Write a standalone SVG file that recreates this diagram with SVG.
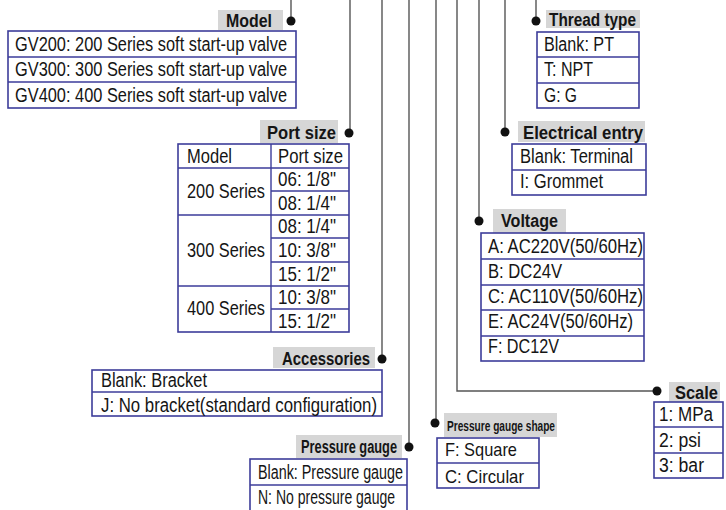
<svg xmlns="http://www.w3.org/2000/svg" width="726" height="510" viewBox="0 0 726 510">
<style>
.t{font-family:"Liberation Sans Narrow","Liberation Sans",Arial,sans-serif;font-size:20px;fill:#151515}
.b{font-family:"Liberation Sans Narrow","Liberation Sans",Arial,sans-serif;font-size:18px;font-weight:bold;fill:#151515}
.s{font-size:15px}
.m{font-size:18.5px}
.box{fill:#fff;stroke:#3d3d9a;stroke-width:1.6}
.div{stroke:#3d3d9a;stroke-width:1.4;fill:none}
.lab{fill:#d6d6d6}
.con{stroke:#555;stroke-width:1.4;fill:none}
.dot{fill:#111}
</style>
<rect width="726" height="510" fill="#fff"/>
<g id="connectors">
<path class="con" d="M291 0V21"/>
<path class="con" d="M350 0V133"/>
<path class="con" d="M382 0V359"/>
<path class="con" d="M409 0V447"/>
<path class="con" d="M436 0V423"/>
<path class="con" d="M457 0V391H655"/>
<path class="con" d="M479 0V221"/>
<path class="con" d="M505 0V132"/>
<path class="con" d="M536 0V21"/>
<circle class="dot" cx="291" cy="21" r="4.5"/>
<circle class="dot" cx="349" cy="133" r="4.5"/>
<circle class="dot" cx="382" cy="359" r="4.5"/>
<circle class="dot" cx="409" cy="447" r="4.5"/>
<circle class="dot" cx="435" cy="423" r="4.5"/>
<circle class="dot" cx="657" cy="391" r="4.5"/>
<circle class="dot" cx="479" cy="221" r="4.5"/>
<circle class="dot" cx="505" cy="132" r="4.5"/>
<circle class="dot" cx="536" cy="21" r="4.5"/>
</g>
<g id="model">
<rect class="lab" x="218" y="10" width="65" height="20"/>
<text class="b" x="226" y="27" textLength="46" lengthAdjust="spacingAndGlyphs">Model</text>
<rect class="box" x="8" y="31" width="288" height="77"/>
<path class="div" d="M8 57H296M8 82H296"/>
<text class="t" x="15" y="51" textLength="272" lengthAdjust="spacingAndGlyphs">GV200: 200 Series soft start-up valve</text>
<text class="t" x="15" y="76" textLength="272" lengthAdjust="spacingAndGlyphs">GV300: 300 Series soft start-up valve</text>
<text class="t" x="15" y="102" textLength="272" lengthAdjust="spacingAndGlyphs">GV400: 400 Series soft start-up valve</text>
</g>
<g id="port-size">
<rect class="lab" x="260" y="120" width="78" height="23"/>
<text class="b" x="267" y="139" textLength="69" lengthAdjust="spacingAndGlyphs">Port size</text>
<rect class="box" x="178" y="144" width="171" height="188"/>
<path class="div" d="M271 144V332M178 168H349M178 215H349M178 286H349M271 191H349M271 238H349M271 262H349M271 309H349"/>
<text class="t" x="187" y="163" textLength="45" lengthAdjust="spacingAndGlyphs">Model</text>
<text class="t" x="278" y="163" textLength="65" lengthAdjust="spacingAndGlyphs">Port size</text>
<text class="t" x="187" y="198" textLength="78" lengthAdjust="spacingAndGlyphs">200 Series</text>
<text class="t" x="187" y="257" textLength="78" lengthAdjust="spacingAndGlyphs">300 Series</text>
<text class="t" x="187" y="315" textLength="78" lengthAdjust="spacingAndGlyphs">400 Series</text>
<text class="t" x="278" y="186" textLength="58" lengthAdjust="spacingAndGlyphs">06: 1/8"</text>
<text class="t" x="278" y="210" textLength="58" lengthAdjust="spacingAndGlyphs">08: 1/4"</text>
<text class="t" x="278" y="233" textLength="58" lengthAdjust="spacingAndGlyphs">08: 1/4"</text>
<text class="t" x="278" y="257" textLength="58" lengthAdjust="spacingAndGlyphs">10: 3/8"</text>
<text class="t" x="278" y="281" textLength="58" lengthAdjust="spacingAndGlyphs">15: 1/2"</text>
<text class="t" x="278" y="304" textLength="58" lengthAdjust="spacingAndGlyphs">10: 3/8"</text>
<text class="t" x="278" y="328" textLength="58" lengthAdjust="spacingAndGlyphs">15: 1/2"</text>
</g>
<g id="accessories">
<rect class="lab" x="273" y="347" width="102" height="21"/>
<text class="b" x="282" y="365" textLength="88" lengthAdjust="spacingAndGlyphs">Accessories</text>
<rect class="box" x="92" y="370" width="290" height="46"/>
<path class="div" d="M92 392H382"/>
<text class="t" x="101" y="387" textLength="106" lengthAdjust="spacingAndGlyphs">Blank: Bracket</text>
<text class="t" x="101" y="412" textLength="276" lengthAdjust="spacingAndGlyphs">J: No bracket(standard configuration)</text>
</g>
<g id="pressure-gauge">
<rect class="lab" x="296" y="435" width="106" height="23"/>
<text class="b" x="301" y="453" textLength="96" lengthAdjust="spacingAndGlyphs">Pressure gauge</text>
<rect class="box" x="250" y="459" width="157" height="56"/>
<path class="div" d="M250 485H407"/>
<text class="t" x="258" y="479" textLength="145" lengthAdjust="spacingAndGlyphs">Blank: Pressure gauge</text>
<text class="t" x="258" y="504" textLength="137" lengthAdjust="spacingAndGlyphs">N: No pressure gauge</text>
</g>
<g id="pressure-gauge-shape">
<rect class="lab" x="444" y="413" width="113" height="24"/>
<text class="b s" x="447" y="431" textLength="108" lengthAdjust="spacingAndGlyphs">Pressure gauge shape</text>
<rect class="box" x="437" y="438" width="102" height="50"/>
<path class="div" d="M437 463H539"/>
<text class="t m" x="445" y="456" textLength="72" lengthAdjust="spacingAndGlyphs">F: Square</text>
<text class="t m" x="445" y="483" textLength="79" lengthAdjust="spacingAndGlyphs">C: Circular</text>
</g>
<g id="scale">
<rect class="lab" x="669" y="382" width="51" height="20"/>
<text class="b" x="675" y="399" textLength="43" lengthAdjust="spacingAndGlyphs">Scale</text>
<rect class="box" x="654" y="402" width="69" height="76"/>
<path class="div" d="M654 427H723M654 453H723"/>
<text class="t" x="659" y="421" textLength="54" lengthAdjust="spacingAndGlyphs">1: MPa</text>
<text class="t" x="659" y="447" textLength="42" lengthAdjust="spacingAndGlyphs">2: psi</text>
<text class="t" x="659" y="472" textLength="45" lengthAdjust="spacingAndGlyphs">3: bar</text>
</g>
<g id="voltage">
<rect class="lab" x="493" y="209" width="73" height="24"/>
<text class="b" x="501" y="227" textLength="57" lengthAdjust="spacingAndGlyphs">Voltage</text>
<rect class="box" x="481" y="233" width="163" height="128"/>
<path class="div" d="M481 259H644M481 285H644M481 310H644M481 336H644"/>
<text class="t" x="488" y="253" textLength="155" lengthAdjust="spacingAndGlyphs">A: AC220V(50/60Hz)</text>
<text class="t" x="488" y="278" textLength="74" lengthAdjust="spacingAndGlyphs">B: DC24V</text>
<text class="t" x="488" y="303" textLength="155" lengthAdjust="spacingAndGlyphs">C: AC110V(50/60Hz)</text>
<text class="t" x="488" y="328" textLength="145" lengthAdjust="spacingAndGlyphs">E: AC24V(50/60Hz)</text>
<text class="t" x="488" y="353" textLength="71" lengthAdjust="spacingAndGlyphs">F: DC12V</text>
</g>
<g id="electrical-entry">
<rect class="lab" x="518" y="121" width="127" height="21"/>
<text class="b" x="523" y="139" textLength="120" lengthAdjust="spacingAndGlyphs">Electrical entry</text>
<rect class="box" x="512" y="144" width="134" height="51"/>
<path class="div" d="M512 170H646"/>
<text class="t" x="520" y="163" textLength="113" lengthAdjust="spacingAndGlyphs">Blank: Terminal</text>
<text class="t" x="520" y="188" textLength="83" lengthAdjust="spacingAndGlyphs">I: Grommet</text>
</g>
<g id="thread-type">
<rect class="lab" x="546" y="10" width="94" height="18"/>
<text class="b" x="549" y="26" textLength="87" lengthAdjust="spacingAndGlyphs">Thread type</text>
<rect class="box" x="537" y="32" width="102" height="76"/>
<path class="div" d="M537 57H639M537 83H639"/>
<text class="t" x="544" y="51" textLength="70" lengthAdjust="spacingAndGlyphs">Blank: PT</text>
<text class="t" x="544" y="76" textLength="49" lengthAdjust="spacingAndGlyphs">T: NPT</text>
<text class="t" x="544" y="102" textLength="33" lengthAdjust="spacingAndGlyphs">G: G</text>
</g>
</svg>
